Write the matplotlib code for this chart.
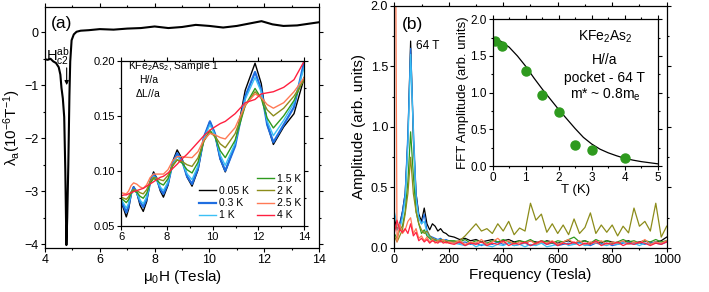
import matplotlib
matplotlib.use('Agg')
import matplotlib.pyplot as plt
from matplotlib.lines import Line2D
from matplotlib.ticker import MultipleLocator

plt.rcParams['font.family'] = ['Liberation Sans', 'DejaVu Sans']
plt.rcParams['mathtext.fontset'] = 'custom'
plt.rcParams['mathtext.rm'] = 'Liberation Sans'
plt.rcParams['mathtext.it'] = 'Liberation Sans:italic'
plt.rcParams['mathtext.default'] = 'regular'

# ---- panel (a) main: lambda_a vs field ----
field_main = [4.0, 4.1, 4.2, 4.3, 4.4, 4.5, 4.56, 4.6, 4.65, 4.7, 4.74, 4.78, 4.81, 4.85,
              4.89, 4.92, 4.97, 5.05, 5.15, 5.3, 5.6, 6.0, 6.5, 7.0, 7.5, 8.0, 8.5, 9.0,
              9.5, 10.0, 10.5, 11.0, 11.5, 11.9, 12.3, 12.7, 13.2, 13.6, 14.0]
lam_main = [-0.51, -0.52, -0.5, -0.55, -0.58, -0.66, -0.8, -1.05, -1.25, -1.6, -2.6, -4.02, -3.5, -2.5,
            -1.2, -0.55, -0.15, -0.04, 0.01, 0.03, 0.04, 0.06, 0.05, 0.07, 0.08, 0.11, 0.08, 0.1,
            0.14, 0.12, 0.09, 0.12, 0.17, 0.21, 0.15, 0.12, 0.13, 0.16, 0.19]

# ---- panel (a) inset: oscillations at several temperatures ----
field_ins = [6.0, 6.12, 6.23, 6.33, 6.44, 6.55, 6.69, 6.83, 6.97, 7.12, 7.27, 7.42, 7.56, 7.71, 7.85, 8.05, 8.25, 8.45,
             8.67, 8.88, 9.1, 9.36, 9.62, 9.88, 10.1, 10.33, 10.55, 10.98, 11.42, 11.85, 12.12, 12.38, 12.65, 13.1, 13.55, 14.0]
osc_005 = [0.072, 0.065, 0.058, 0.065, 0.0786, 0.0855, 0.0799, 0.0686, 0.063, 0.072, 0.09, 0.099, 0.0933, 0.0818, 0.076, 0.0868, 0.1083, 0.119,
           0.1108, 0.0943, 0.086, 0.1008, 0.1303, 0.145, 0.1335, 0.1105, 0.099, 0.1238, 0.1733, 0.198, 0.1795, 0.1425, 0.124, 0.14, 0.152, 0.185]
osc_03 = [0.073, 0.0675, 0.062, 0.0678, 0.0793, 0.085, 0.0805, 0.0715, 0.067, 0.0745, 0.0895, 0.097, 0.0925, 0.0835, 0.079, 0.0883, 0.1068, 0.116,
          0.109, 0.095, 0.088, 0.1023, 0.1308, 0.145, 0.1338, 0.1113, 0.1, 0.1225, 0.1675, 0.19, 0.174, 0.142, 0.126, 0.142, 0.158, 0.2]
osc_1 = [0.074, 0.07, 0.066, 0.0703, 0.0788, 0.083, 0.0798, 0.0733, 0.07, 0.0763, 0.0888, 0.095, 0.0918, 0.0853, 0.082, 0.0898, 0.1053, 0.113,
         0.1078, 0.0973, 0.092, 0.1045, 0.1295, 0.142, 0.1328, 0.1143, 0.105, 0.125, 0.165, 0.185, 0.1718, 0.1453, 0.132, 0.146, 0.162, 0.195]
osc_15 = [0.075, 0.073, 0.071, 0.0738, 0.0793, 0.082, 0.0803, 0.0768, 0.075, 0.0795, 0.0885, 0.093, 0.0915, 0.0885, 0.087, 0.0928, 0.1043, 0.11,
          0.107, 0.101, 0.098, 0.1078, 0.1273, 0.137, 0.1308, 0.1183, 0.112, 0.1278, 0.1593, 0.175, 0.166, 0.148, 0.139, 0.15, 0.164, 0.185]
osc_2 = [0.076, 0.075, 0.074, 0.0763, 0.0808, 0.083, 0.082, 0.08, 0.079, 0.0828, 0.0903, 0.094, 0.0933, 0.0918, 0.091, 0.0958, 0.1053, 0.11,
         0.1085, 0.1055, 0.104, 0.1118, 0.1273, 0.135, 0.1315, 0.1245, 0.121, 0.1338, 0.1593, 0.172, 0.1665, 0.1555, 0.15, 0.157, 0.168, 0.183]
osc_25 = [0.08, 0.0795, 0.079, 0.0815, 0.0865, 0.089, 0.0878, 0.0853, 0.084, 0.0873, 0.0938, 0.097, 0.097, 0.097, 0.097, 0.101, 0.109, 0.113,
          0.1128, 0.1123, 0.112, 0.1175, 0.1285, 0.134, 0.1328, 0.1303, 0.129, 0.1393, 0.1598, 0.17, 0.1668, 0.1603, 0.157, 0.162, 0.172, 0.185]
osc_4 = [0.077, 0.078, 0.078, 0.079, 0.08, 0.081, 0.082, 0.083, 0.084, 0.086, 0.088, 0.09, 0.092, 0.094, 0.095, 0.098, 0.102, 0.106,
         0.111, 0.115, 0.12, 0.126, 0.132, 0.137, 0.14, 0.143, 0.145, 0.152, 0.162, 0.165, 0.17, 0.171, 0.172, 0.176, 0.183, 0.2]

temps_lbl = ['0.05 K', '0.3 K', '1 K', '1.5 K', '2 K', '2.5 K', '4 K']
colors = ['black', '#1f6ee0', '#3cc0f5', '#2e9a1e', '#8c8c1a', '#ff7a55', '#ff2040']

# ---- panel (b): FFT spectra ----
freq = list(range(0, 210, 10)) + list(range(220, 1020, 20))
fft_005 = [0.25, 0.15, 0.2, 0.3, 0.45, 0.9, 1.71, 0.9, 0.45, 0.28, 0.22, 0.33, 0.2, 0.15, 0.2, 0.18, 0.14, 0.16, 0.13, 0.12, 0.1,
           0.09, 0.07, 0.08, 0.06, 0.07, 0.05, 0.06, 0.07, 0.05, 0.06, 0.07, 0.05, 0.06, 0.04, 0.06, 0.05, 0.04, 0.06, 0.05, 0.04,
           0.05, 0.06, 0.04, 0.05, 0.06, 0.04, 0.05, 0.04, 0.06, 0.05, 0.04, 0.05, 0.06, 0.04, 0.05, 0.06, 0.04, 0.05, 0.06, 0.09]
fft_03 = [0.17, 0.15, 0.18, 0.3, 0.45, 0.95, 1.65, 1.0, 0.45, 0.25, 0.2, 0.28, 0.15, 0.1, 0.09, 0.08, 0.07, 0.08, 0.06, 0.07, 0.06,
          0.05, 0.04, 0.05, 0.03, 0.04, 0.02, 0.04, 0.03, 0.05, 0.03, 0.04, 0.02, 0.03, 0.04, 0.02, 0.03, 0.05, 0.03, 0.04, 0.02,
          0.03, 0.04, 0.03, 0.05, 0.03, 0.02, 0.04, 0.03, 0.04, 0.02, 0.03, 0.04, 0.05, 0.03, 0.04, 0.03, 0.05, 0.04, 0.03, 0.05]
fft_1 = [0.3, 0.2, 0.15, 0.25, 0.4, 0.85, 1.6, 0.95, 0.4, 0.25, 0.2, 0.22, 0.12, 0.09, 0.07, 0.06, 0.07, 0.05, 0.06, 0.05, 0.06,
         0.04, 0.03, 0.02, 0.04, 0.01, 0.03, 0.02, 0.01, 0.03, 0.02, 0.04, 0.02, 0.03, 0.01, 0.03, 0.02, 0.04, 0.01, 0.02, 0.03,
         0.05, 0.02, 0.03, 0.04, 0.02, 0.03, 0.05, 0.03, 0.02, 0.04, 0.03, 0.05, 0.03, 0.04, 0.02, 0.04, 0.03, 0.05, 0.04, 0.06]
fft_15 = [0.12, 0.08, 0.15, 0.18, 0.3, 0.55, 0.96, 0.6, 0.3, 0.2, 0.12, 0.15, 0.1, 0.08, 0.06, 0.07, 0.05, 0.06, 0.07, 0.05, 0.06,
          0.06, 0.05, 0.07, 0.04, 0.06, 0.05, 0.04, 0.06, 0.05, 0.07, 0.05, 0.04, 0.06, 0.05, 0.07, 0.04, 0.06, 0.05, 0.04, 0.06,
          0.05, 0.07, 0.09, 0.05, 0.06, 0.04, 0.07, 0.05, 0.06, 0.04, 0.05, 0.07, 0.05, 0.06, 0.04, 0.06, 0.05, 0.07, 0.05, 0.06]
fft_2 = [0.1, 0.05, 0.1, 0.15, 0.28, 0.45, 0.75, 0.45, 0.3, 0.2, 0.15, 0.12, 0.14, 0.1, 0.08, 0.07, 0.06, 0.07, 0.05, 0.06, 0.05,
         0.05, 0.06, 0.1, 0.15, 0.2, 0.14, 0.16, 0.12, 0.2, 0.14, 0.22, 0.11, 0.165, 0.14, 0.37, 0.23, 0.28, 0.13, 0.2, 0.12,
         0.19, 0.11, 0.24, 0.12, 0.17, 0.29, 0.12, 0.19, 0.13, 0.19, 0.1, 0.18, 0.125, 0.33, 0.18, 0.22, 0.14, 0.37, 0.09, 0.18]
fft_25 = [5.0, 0.05, 0.2, 0.12, 0.15, 0.22, 0.25, 0.12, 0.16, 0.08, 0.1, 0.06, 0.09, 0.05, 0.07, 0.04, 0.06, 0.05, 0.07, 0.04, 0.05,
          0.04, 0.06, 0.03, 0.05, 0.04, 0.07, 0.03, 0.05, 0.08, 0.04, 0.06, 0.03, 0.05, 0.04, 0.06, 0.03, 0.05, 0.04, 0.06, 0.03,
          0.05, 0.07, 0.04, 0.06, 0.03, 0.05, 0.04, 0.06, 0.03, 0.05, 0.04, 0.06, 0.03, 0.05, 0.04, 0.07, 0.03, 0.05, 0.04, 0.06]
fft_4 = [0.12, 0.23, 0.15, 0.13, 0.16, 0.12, 0.2, 0.1, 0.13, 0.06, 0.08, 0.05, 0.07, 0.04, 0.06, 0.05, 0.04, 0.06, 0.04, 0.05, 0.04,
         0.03, 0.05, 0.02, 0.04, 0.03, 0.05, 0.02, 0.04, 0.03, 0.06, 0.02, 0.04, 0.03, 0.05, 0.02, 0.04, 0.06, 0.03, 0.05, 0.02,
         0.04, 0.03, 0.05, 0.02, 0.04, 0.03, 0.06, 0.02, 0.04, 0.03, 0.05, 0.02, 0.04, 0.03, 0.05, 0.04, 0.02, 0.04, 0.03, 0.05]

# ---- panel (b) inset: FFT amplitude vs temperature ----
T_pts = [0.07, 0.29, 1.0, 1.5, 2.0, 2.5, 3.0, 4.0]
amp_pts = [1.71, 1.64, 1.30, 0.97, 0.74, 0.29, 0.22, 0.105]
T_fit = [0.0, 0.25, 0.5, 0.75, 1.0, 1.25, 1.5, 1.75, 2.0, 2.25, 2.5, 2.75, 3.0, 3.25, 3.5, 3.75, 4.0, 4.25, 4.5, 4.75, 5.0]
amp_fit = [1.74, 1.7, 1.62, 1.5, 1.36, 1.2, 1.05, 0.91, 0.77, 0.64, 0.51, 0.39, 0.3, 0.23, 0.18, 0.14, 0.105, 0.08, 0.06, 0.045, 0.03]


def style_axes(ax, size, major=3.0, minor=1.6):
    ax.tick_params(which='both', direction='out', top=True, right=True, labelsize=size, width=0.8, pad=1.5)
    ax.tick_params(which='major', length=major)
    ax.tick_params(which='minor', length=minor)
    for s in ax.spines.values():
        s.set_linewidth(0.9)


fig = plt.figure(figsize=(7.09, 2.92), dpi=100)

# main (a)
ax1 = fig.add_axes([0.0635, 0.1507, 0.3865, 0.827])
ax1.plot(field_main, lam_main, color='black', lw=1.5)
ax1.set_xlim(4, 14)
ax1.set_ylim(-4.075, 0.487)
ax1.xaxis.set_major_locator(MultipleLocator(2))
ax1.xaxis.set_minor_locator(MultipleLocator(1))
ax1.yaxis.set_major_locator(MultipleLocator(1))
ax1.yaxis.set_minor_locator(MultipleLocator(0.5))
style_axes(ax1, 9)
ax1.set_xlabel(r'$\mu_0$H (Tesla)', fontsize=11, labelpad=1)
ax1.set_ylabel(r'$\lambda_a(10^{-6}T^{-1})$', fontsize=11, labelpad=1)
ax1.text(4.2, 0.17, '(a)', fontsize=12.5, ha='left', va='center')
ax1.text(4.46, -0.45, r'$H_{c2}^{ab}$', fontsize=10.5, ha='center', va='center')
ax1.annotate('', xy=(4.79, -1.05), xytext=(4.79, -0.62),
             arrowprops=dict(arrowstyle='-|>', color='black', lw=0.8, mutation_scale=6))

# inset (a)
axi = fig.add_axes([0.1707, 0.2271, 0.2585, 0.564])
osc_all = [osc_005, osc_03, osc_1, osc_15, osc_2, osc_25, osc_4]
widths = [1.0, 1.6, 1.0, 1.0, 1.0, 1.0, 1.0]
handles = []
for vals, c, lbl, w in zip(osc_all, colors, temps_lbl, widths):
    h, = axi.plot(field_ins, vals, color=c, lw=w, label=lbl)
    handles.append(h)
axi.set_xlim(6, 14)
axi.set_ylim(0.05, 0.20)
axi.xaxis.set_major_locator(MultipleLocator(2))
axi.xaxis.set_minor_locator(MultipleLocator(1))
axi.yaxis.set_major_locator(MultipleLocator(0.05))
axi.yaxis.set_minor_locator(MultipleLocator(0.025))
axi.yaxis.set_major_formatter(plt.FormatStrFormatter('%.2f'))
style_axes(axi, 8, major=2.8, minor=1.5)
axi.text(6.3, 0.1955, r'KFe$_2$As$_2$, Sample 1', fontsize=7.5, ha='left', va='center')
axi.text(7.2, 0.1825, 'H//a', fontsize=7.5, ha='center', va='center')
axi.text(7.2, 0.1705, r'$\Delta$L//a', fontsize=7.5, ha='center', va='center')
blank = Line2D([], [], color='none')
leg_h = [blank] + handles[:3] + handles[3:]
leg_l = [''] + temps_lbl[:3] + temps_lbl[3:]
axi.legend(leg_h, leg_l, ncol=2, loc='lower right', fontsize=7.5, frameon=False,
           handlelength=1.6, handletextpad=0.3, columnspacing=0.8, labelspacing=0.22,
           borderaxespad=0.1, bbox_to_anchor=(1.01, 0.0))

# main (b)
ax2 = fig.add_axes([0.5561, 0.1507, 0.3842, 0.8288])
fft_all = [fft_005, fft_03, fft_1, fft_15, fft_2, fft_25, fft_4]
for vals, c in zip(fft_all, colors):
    ax2.plot(freq, vals, color=c, lw=0.9)
ax2.set_xlim(0, 1000)
ax2.set_ylim(0, 2.0)
ax2.xaxis.set_major_locator(MultipleLocator(200))
ax2.xaxis.set_minor_locator(MultipleLocator(100))
ax2.yaxis.set_major_locator(MultipleLocator(0.5))
ax2.yaxis.set_minor_locator(MultipleLocator(0.25))
ax2.yaxis.set_major_formatter(plt.FormatStrFormatter('%.1f'))
style_axes(ax2, 9)
ax2.set_xlabel('Frequency (Tesla)', fontsize=11, labelpad=1)
ax2.set_ylabel('Amplitude (arb. units)', fontsize=11, labelpad=3)
ax2.text(67, 1.85, '(b)', fontsize=12.5, ha='center', va='center')
ax2.text(78, 1.67, '64 T', fontsize=8.5, ha='left', va='center')

# inset (b)
axb = fig.add_axes([0.6949, 0.4315, 0.2327, 0.5024])
axb.plot(T_fit, amp_fit, color='black', lw=0.9)
axb.plot(T_pts, amp_pts, 'o', color='#2e9a1e', ms=6.5, mec='#2e9a1e')
axb.set_xlim(0, 5)
axb.set_ylim(0, 2.0)
axb.xaxis.set_major_locator(MultipleLocator(1))
axb.xaxis.set_minor_locator(MultipleLocator(0.5))
axb.yaxis.set_major_locator(MultipleLocator(0.5))
axb.yaxis.set_minor_locator(MultipleLocator(0.25))
axb.yaxis.set_major_formatter(plt.FormatStrFormatter('%.1f'))
style_axes(axb, 8.5, major=2.8, minor=1.5)
axb.set_xlabel('T (K)', fontsize=9.5, labelpad=0)
axb.set_ylabel('FFT Amplitude (arb. units)', fontsize=9.5, labelpad=1)
axb.text(3.4, 1.76, r'KFe$_2$As$_2$', fontsize=10, ha='center', va='center')
axb.text(3.4, 1.45, 'H//a', fontsize=10, ha='center', va='center')
axb.text(3.4, 1.2, 'pocket - 64 T', fontsize=10, ha='center', va='center')
axb.text(3.4, 0.97, r'm* ~ 0.8m$_e$', fontsize=10, ha='center', va='center')

fig.savefig('out.png', dpi=100)
